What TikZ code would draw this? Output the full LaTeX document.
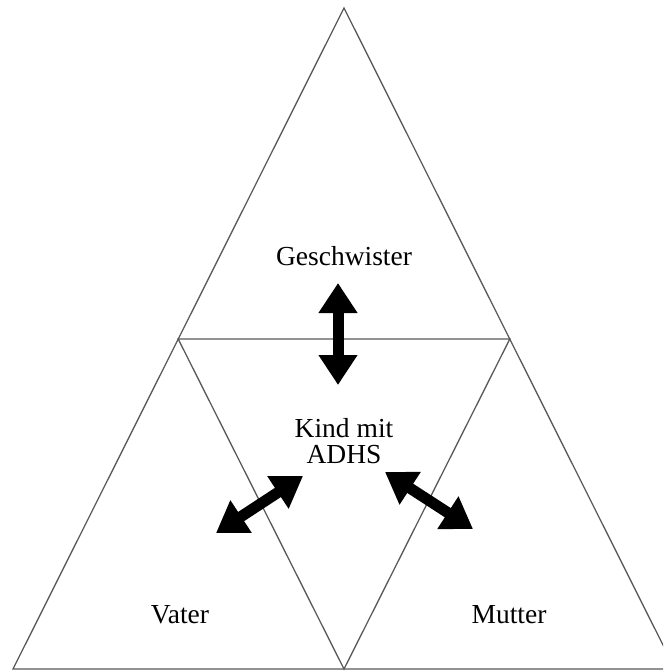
\documentclass[tikz,border=0pt]{standalone}
\usepackage{fontspec}
\setmainfont{Liberation Serif}
\usetikzlibrary{arrows.meta}
\begin{document}
\begin{tikzpicture}[x=1pt,y=-1pt,
  edge/.style={draw=black!65,line width=1.3pt,line join=miter},
  bigarrow/.style={line width=11pt,{Triangle[length=30pt,width=37pt]}-{Triangle[length=30pt,width=37pt]}},
  lbl/.style={font=\fontsize{27.5}{26}\selectfont,inner sep=0pt,anchor=base,align=center}]
\useasboundingbox (0,0) rectangle (663,671);
\clip (0,0) rectangle (663,671);
% outer triangle
\coordinate (A) at (344,8);
\coordinate (L) at (13,669);
\coordinate (R) at (675,669);
% inner inverted triangle
\coordinate (ML) at (178.2,339);
\coordinate (MR) at (509.8,339);
\coordinate (B) at (344,669);
\draw[edge] (L) -- (A) -- (R) -- cycle;
\draw[edge] (ML) -- (MR) -- (B) -- cycle;
% labels
\node[lbl] (geschw) at (344,265) {Geschwister};
\node[lbl] (kind) at (344,463) {Kind mit\\ADHS};
\node[lbl] (vater) at (180,623) {Vater};
\node[lbl] (mutter) at (509,623) {Mutter};
% arrows
\coordinate (v1) at (338,283);
\coordinate (v2) at (338,385);
\coordinate (l1) at (216,533);
\coordinate (l2) at (303,476);
\coordinate (r1) at (385,472);
\coordinate (r2) at (473,529);
\draw[bigarrow] (v1) -- (v2);
\draw[bigarrow] (l1) -- (l2);
\draw[bigarrow] (r1) -- (r2);
\end{tikzpicture}
\end{document}
